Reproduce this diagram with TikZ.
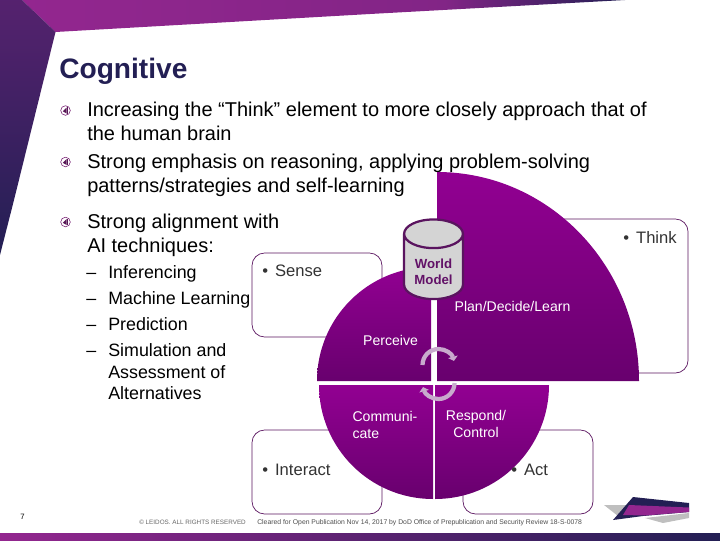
\documentclass[tikz,border=0pt]{standalone}
\usepackage{fontspec}
\setmainfont{Liberation Sans}
\usetikzlibrary{arrows.meta,positioning,shapes.geometric}
\definecolor{navy}{RGB}{35,31,84}
\definecolor{plum}{RGB}{147,38,143}
\definecolor{wedge}{RGB}{146,0,146}
\definecolor{wedgedark}{RGB}{104,0,110}
\definecolor{rim}{RGB}{90,20,95}
\definecolor{loopc}{RGB}{200,170,205}
\pgfdeclarehorizontalshading{topband}{100bp}{color(0bp)=(plum); color(25bp)=(plum); color(60bp)=(plum!85!navy); color(75bp)=(navy); color(100bp)=(navy)}
\tikzset{
  bodytext/.style={anchor=base west,font=\fontsize{14.2}{14.2}\selectfont,inner sep=0pt},
  subtext/.style={anchor=base west,font=\fontsize{12.7}{12.7}\selectfont,inner sep=0pt},
  roundbox/.style={draw=rim,rounded corners=9pt,line width=0.5pt,fill=white,inner sep=0pt},
  tag/.style={anchor=base west,font=\fontsize{11.8}{11.8}\selectfont,text=black!80,inner sep=0pt},
  wedgetext/.style={font=\fontsize{10}{11.4}\selectfont,text=white,align=center,inner sep=0pt,anchor=base},
  turn/.style={draw=loopc,line width=3pt,-{Triangle[length=3pt,width=7pt]}},
  footer/.style={anchor=base west,font=\fontsize{4.85}{4.85}\selectfont,text=black!70,inner sep=0pt},
  % pictograms
  pics/bulletmark/.style={code={
    \draw[plum!80!black,line width=0.4pt] (0,0) circle (4.8);
    \fill[plum!60!black] (-2.6,0.8) -- (1,-3) -- (1,3) -- cycle;
    \fill[plum!60!black] (1,-3.4) rectangle (1.8,3.4);
  }},
}
\begin{document}
\begin{tikzpicture}[x=0.025cm,y=-0.025cm]
  \useasboundingbox (0,0) rectangle (720,540);
  % frame
  \shade[shading=topband] (22,0) -- (55.5,32) -- (370,14) -- (625,0) -- cycle;
  \shade[top color=plum!45!navy,bottom color=navy] (0,0) -- (22,0) -- (55.5,32) -- (14,200) -- (0,255) -- cycle;
  \shade[left color=plum,right color=navy] (0,533) rectangle (720,540);
  % text
  \node[anchor=base west,font=\fontsize{20}{20}\selectfont\bfseries,text=navy,inner sep=0pt] (title) at (59,78) {Cognitive};
  \foreach \y in {110.5,162,222} \pic at (65.5,\y) {bulletmark};
  \foreach \y/\t in {116/{Increasing the “Think” element to more closely approach that of},
    140/{the human brain},
    168/{Strong emphasis on reasoning, applying problem-solving},
    192/{patterns/strategies and self-learning},
    228/{Strong alignment with},
    252/{AI techniques:}}
    \node[bodytext] at (87,\y) {\t};
  \foreach \y/\t in {278/Inferencing,304/Machine Learning,330/Prediction,356.5/Simulation and,378/Assessment of,399/Alternatives}
    \node[subtext] at (108,\y) {\t};
  \foreach \y in {278,304,330,356.5}
    \node[subtext] at (86,\y) {–};
  % boxes
  \node[roundbox,minimum width=3.25cm,minimum height=2.1cm] (sensebox) at (317,295) {};
  \node[roundbox,minimum width=5.6cm,minimum height=3.85cm] (thinkbox) at (576,296) {};
  \node[roundbox,minimum width=3.25cm,minimum height=2.1cm] (interactbox) at (317,472) {};
  \node[roundbox,minimum width=3.25cm,minimum height=2.1cm] (actbox) at (528,472) {};
  % wedges
  \shade[top color=wedge,bottom color=wedgedark] (437,381) -- (437,172) arc[start angle=-90,end angle=0,x radius=202,y radius=209] -- cycle;
  \shade[top color=wedge,bottom color=wedgedark] (431,381) -- (431,267) arc[start angle=-90,end angle=-180,radius=114] -- cycle;
  \shade[top color=wedge,bottom color=wedgedark] (433,385) -- (319,385) arc[start angle=180,end angle=90,radius=114] -- cycle;
  \shade[top color=wedge,bottom color=wedgedark] (435,385) -- (549,385) arc[start angle=0,end angle=90,radius=114] -- cycle;
  \node[tag] (sense) at (262,276) {•\hspace{5pt}Sense};
  \node[tag] (think) at (623,243) {•\hspace{5pt}Think};
  \node[tag] (interact) at (262,475) {•\hspace{5pt}Interact};
  \node[tag] (act) at (511,475) {•\hspace{5pt}Act};
  \node[wedgetext] (plan) at (512.5,311.5) {Plan/Decide/Learn};
  \node[wedgetext] (perceive) at (390.5,345) {Perceive};
  \node[wedgetext,align=left] (comm) at (385,438) {Communi-\\cate};
  \node[wedgetext] (respond) at (476,437) {Respond/\\Control};
  \node[cylinder,shape border rotate=90,aspect=0.75,draw=rim,line width=1.6pt,fill=black!17,
    minimum width=1.47cm,minimum height=1.9cm,inner sep=0pt,
    font=\fontsize{9.4}{11.2}\selectfont\bfseries,text=rim!85!wedge,align=center] (world) at (433.5,267) {\rule{0pt}{14pt}World\\Model};
  % loop
  \coordinate (looptop) at (422.5,365);
  \coordinate (loopbot) at (454.5,383);
  \draw[turn] (looptop) arc[start angle=180,end angle=345,radius=16];
  \draw[turn] (loopbot) arc[start angle=0,end angle=165,radius=16];
  % footer
  \node[anchor=base west,font=\fontsize{5.5}{5.5}\selectfont,inner sep=0pt] (pagenum) at (20,519) {7};
  \node[footer,font=\fontsize{4.5}{4.5}\selectfont,text=black!60] (rights) at (139,524.5) {© LEIDOS. ALL RIGHTS RESERVED};
  \node[footer] (cleared) at (257,524.5) {Cleared for Open Publication Nov 14, 2017 by DoD Office of Prepublication and Security Review 18-S-0078};
  % logo
  \fill[black!25] (604,505) -- (628,505) -- (618,516) -- cycle;
  \fill[black!25] (645,518) -- (689,513) -- (689,518) -- (663,523) -- cycle;
  \fill[navy] (633,497) -- (689,503) -- (689,512) -- (643,516) -- (613,520) -- cycle;
  \fill[plum] (629,505) -- (689,507.5) -- (689,512) -- (645,515.5) -- (623,515) -- cycle;
\end{tikzpicture}
\end{document}
